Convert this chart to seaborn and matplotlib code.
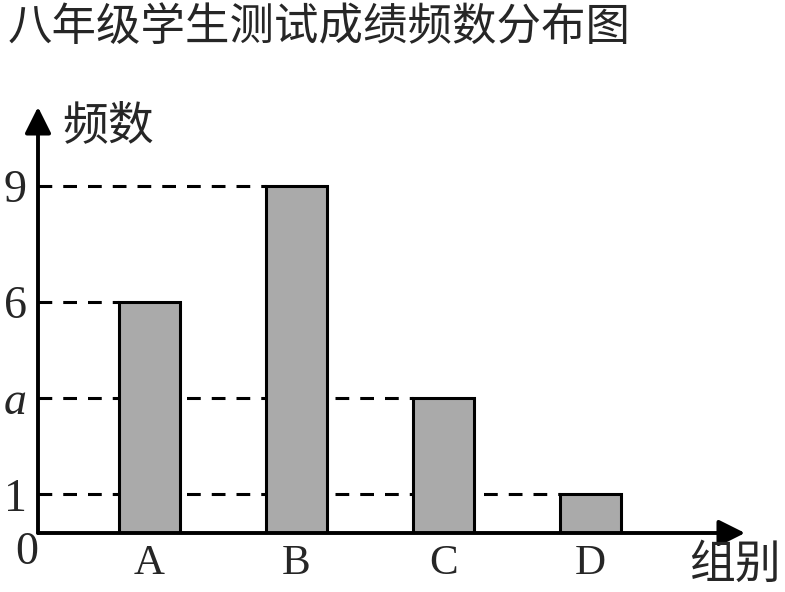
import matplotlib
matplotlib.use("Agg")
import matplotlib.pyplot as plt
import seaborn as sns
import pandas as pd

groups = ["A", "B", "C", "D"]
counts = [6, 9, 3.5, 1]
ytick_values = [1, 3.5, 6, 9]
ytick_labels = ["1", "a", "6", "9"]
title = "八年级学生测试成绩频数分布图"
ylabel = "频数"
xlabel = "组别"

sns.set_style("white")
plt.rcParams["font.family"] = ["Liberation Serif", "Noto Sans CJK SC"]

W, H = 785, 592
fig = plt.figure(figsize=(W / 100, H / 100), dpi=100)
ax_left, ax_right, ax_top, ax_bottom = 38, 745, 107, 533
ax = fig.add_axes([ax_left / W, (H - ax_bottom) / H,
                   (ax_right - ax_left) / W, (ax_bottom - ax_top) / H])

df = pd.DataFrame({"group": groups, "count": counts})
bar_w = 0.41
sns.barplot(data=df, x="group", y="count", color="#aaaaaa", saturation=1,
            edgecolor="black", linewidth=2.2, width=bar_w, ax=ax, zorder=3)

xlo, xhi = -0.7585, 4.051
ax.set_xlim(xlo, xhi)
ax.set_ylim(0, 11.05)

# dashed guide lines from y axis to the left edge of each bar
for i, v in enumerate(counts):
    ax.hlines(v, xlo, i - bar_w / 2, colors="black", linewidth=2.2,
              linestyles=(0, (4.5, 3.6)), zorder=1)

ax.set_yticks(ytick_values)
ax.set_yticklabels(ytick_labels, fontsize=33)
ax.get_yticklabels()[1].set_style("italic")
ax.tick_params(axis="y", length=0, pad=8)
ax.tick_params(axis="x", length=0, pad=8, labelsize=31)
ax.set_xlabel("")
ax.set_ylabel("")

for s in ["top", "right", "left", "bottom"]:
    ax.spines[s].set_visible(False)

# axes with arrows
ax.annotate("", xy=(0, 1.0), xytext=(0, 0), xycoords="axes fraction",
            arrowprops=dict(arrowstyle="-|>", lw=2.8, color="black",
                            mutation_scale=40, shrinkA=0, shrinkB=0))
ax.annotate("", xy=(1.0, 0), xytext=(0, 0), xycoords="axes fraction",
            arrowprops=dict(arrowstyle="-|>", lw=2.8, color="black",
                            mutation_scale=40, shrinkA=0, shrinkB=0))

fig.text(8 / W, 1 - 28 / H, title, fontsize=32, ha="left", va="center")
fig.text(62 / W, 1 - 128 / H, ylabel, fontsize=33, ha="left", va="center")
fig.text(781 / W, 1 - 567 / H, xlabel, fontsize=33, ha="right", va="center")
fig.text(27 / W, 1 - 553 / H, "0", fontsize=33, ha="center", va="center")

fig.savefig("out.png", dpi=100)
